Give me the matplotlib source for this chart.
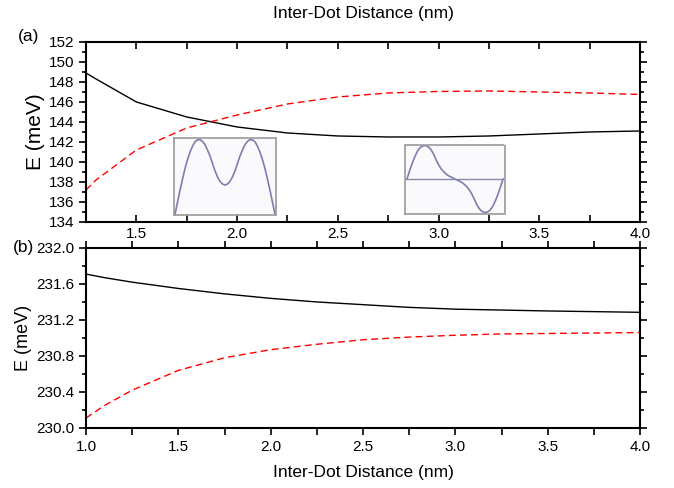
import matplotlib
matplotlib.use('Agg')
import matplotlib.pyplot as plt
from matplotlib.ticker import MultipleLocator, FormatStrFormatter

plt.rcParams['font.family'] = ['Liberation Sans', 'DejaVu Sans']

# panel (a)
xa = [1.25, 1.3, 1.5, 1.75, 2.0, 2.25, 2.5, 2.75, 3.0, 3.25, 3.5, 3.75, 4.0]
ea_solid = [148.9, 148.3, 146.0, 144.5, 143.5, 142.9, 142.6, 142.5, 142.5, 142.6, 142.8, 143.0, 143.1]
ea_dash = [137.2, 138.2, 141.2, 143.4, 144.7, 145.8, 146.5, 146.9, 147.05, 147.1, 147.0, 146.9, 146.75]

# panel (b)
xb = [1.0, 1.1, 1.25, 1.5, 1.75, 2.0, 2.25, 2.5, 2.75, 3.0, 3.25, 3.5, 4.0]
eb_solid = [231.71, 231.67, 231.62, 231.55, 231.49, 231.44, 231.40, 231.37, 231.34, 231.32, 231.31, 231.30, 231.285]
eb_dash = [230.11, 230.25, 230.42, 230.64, 230.78, 230.87, 230.93, 230.98, 231.01, 231.03, 231.045, 231.05, 231.06]

# insets (wavefunction sketches)
psi_x = [0.0, 0.025, 0.05, 0.075, 0.1, 0.125, 0.15, 0.175, 0.2, 0.225, 0.25,
         0.275, 0.3, 0.325, 0.35, 0.375, 0.4, 0.425, 0.45, 0.475, 0.5,
         0.525, 0.55, 0.575, 0.6, 0.625, 0.65, 0.675, 0.7, 0.725, 0.75,
         0.775, 0.8, 0.825, 0.85, 0.875, 0.9, 0.925, 0.95, 0.975, 1.0]
psi_sym = [0.0, 0.16, 0.32, 0.47, 0.61, 0.73, 0.83, 0.91, 0.97, 0.995, 0.998,
           0.975, 0.93, 0.86, 0.78, 0.68, 0.58, 0.50, 0.44, 0.405, 0.39,
           0.405, 0.44, 0.50, 0.58, 0.68, 0.78, 0.86, 0.93, 0.975, 0.998,
           0.995, 0.97, 0.91, 0.83, 0.73, 0.61, 0.47, 0.32, 0.16, 0.0]
psi_anti = [0.0, 0.22, 0.43, 0.62, 0.78, 0.90, 0.97, 1.0, 1.0, 0.96, 0.88,
            0.76, 0.60, 0.45, 0.33, 0.24, 0.17, 0.11, 0.07, 0.035, 0.0,
            -0.035, -0.07, -0.11, -0.17, -0.24, -0.33, -0.45, -0.60, -0.76, -0.88,
            -0.96, -1.0, -1.0, -0.97, -0.90, -0.78, -0.62, -0.43, -0.22, 0.0]

fig = plt.figure(figsize=(6.74, 4.88), dpi=100)
ax1 = fig.add_axes([0.1276, 0.5451, 0.822, 0.3689])
ax2 = fig.add_axes([0.1276, 0.123, 0.822, 0.3689])

ax1.plot(xa, ea_solid, color='black', lw=1)
ax1.plot(xa, ea_dash, color='red', lw=1, ls=(0, (5, 3)))
ax1.set_xlim(1.25, 4.0)
ax1.set_ylim(134, 152)
ax1.xaxis.set_major_locator(MultipleLocator(0.5))
ax1.xaxis.set_minor_locator(MultipleLocator(0.25))
ax1.yaxis.set_major_locator(MultipleLocator(2))
ax1.yaxis.set_minor_locator(MultipleLocator(1))
ax1.xaxis.set_major_formatter(FormatStrFormatter('%.1f'))
ax1.set_ylabel('E (meV)', fontsize=15, labelpad=3)

ax2.plot(xb, eb_solid, color='black', lw=1)
ax2.plot(xb, eb_dash, color='red', lw=1, ls=(0, (5, 3)))
ax2.set_xlim(1.0, 4.0)
ax2.set_ylim(230.0, 232.0)
ax2.xaxis.set_major_locator(MultipleLocator(0.5))
ax2.xaxis.set_minor_locator(MultipleLocator(0.25))
ax2.yaxis.set_major_locator(MultipleLocator(0.4))
ax2.yaxis.set_minor_locator(MultipleLocator(0.2))
ax2.xaxis.set_major_formatter(FormatStrFormatter('%.1f'))
ax2.yaxis.set_major_formatter(FormatStrFormatter('%.1f'))
ax2.set_ylabel('E (meV)', fontsize=13, labelpad=3)
ax2.set_xlabel('Inter-Dot Distance (nm)', fontsize=12.5, labelpad=8)

for ax in (ax1, ax2):
    for sp in ax.spines.values():
        sp.set_linewidth(1.5)
    ax.tick_params(which='both', labelsize=11, width=1.2)
    ax.tick_params(axis='y', which='both', left=True, right=True, direction='out')
    ax.tick_params(axis='y', which='major', length=5)
    ax.tick_params(axis='y', which='minor', length=3)
    ax.tick_params(axis='x', which='both', top=True, bottom=True, length=5)

ax1.tick_params(axis='x', which='both', direction='in')
ax2.tick_params(axis='x', which='both', direction='out')

fig.text(0.539, 0.973, 'Inter-Dot Distance (nm)', fontsize=12.5, ha='center', va='center')
fig.text(0.043, 0.925, '(a)', fontsize=12.5, ha='center', va='center')
fig.text(0.035, 0.493, '(b)', fontsize=12.5, ha='center', va='center')

# insets
in1 = fig.add_axes([174 / 674, 1 - 215 / 488, 102 / 674, 77 / 488])
in1.plot(psi_x, psi_sym, color='#7e7eae', lw=1.2)
in1.set_xlim(-0.01, 1.01)
in1.set_ylim(-0.01, 1.02)

in2 = fig.add_axes([405 / 674, 1 - 214 / 488, 100 / 674, 69 / 488])
in2.plot(psi_x, psi_anti, color='#7e7eae', lw=1.2)
in2.axhline(0, color='#8a8aa8', lw=1)
in2.set_xlim(-0.02, 1.02)
in2.set_ylim(-1.05, 1.02)

for ax in (in1, in2):
    ax.set_facecolor('#fafafc')
    ax.set_xticks([])
    ax.set_yticks([])
    for sp in ax.spines.values():
        sp.set_color('#999999')
        sp.set_linestyle((0, (1, 1)))
        sp.set_linewidth(1.2)

fig.savefig('out.png', dpi=100)
